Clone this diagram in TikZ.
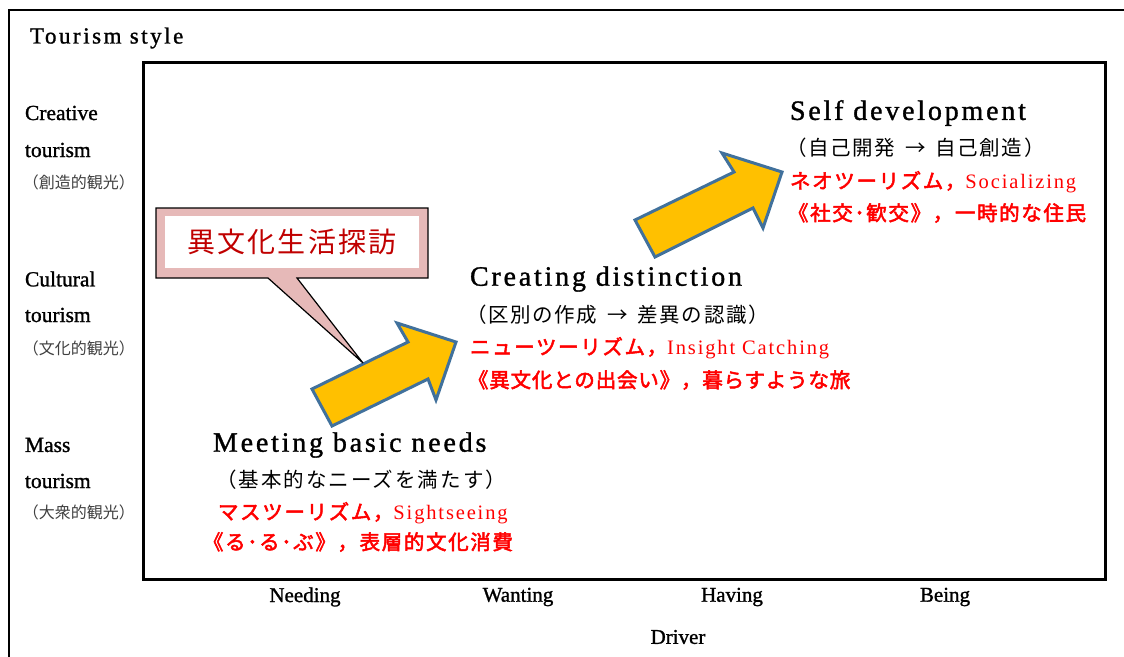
\documentclass[tikz,border=0pt]{standalone}
\usepackage{fontspec}
\setmainfont{Liberation Serif}
\newfontfamily\spcfont[LetterSpace=10,FakeBold=1.2]{Liberation Serif}
\newfontfamily\titlefont[LetterSpace=11,FakeBold=1.2]{Liberation Serif}
\newfontfamily\medserif[FakeBold=1.2]{Liberation Serif}
\newfontfamily\spcsmall[LetterSpace=9]{Liberation Serif}
\newfontfamily\cjkfont[AutoFakeBold=2.5]{Noto Sans CJK JP}
\newfontfamily\cjksp[AutoFakeBold=2.5,LetterSpace=8]{Noto Sans CJK JP}
\newfontfamily\cjknarrow[AutoFakeBold=2.5,LetterSpace=4]{Noto Sans CJK JP}
\newfontfamily\cjkwide[LetterSpace=10]{Noto Sans CJK JP}
\definecolor{arrowfill}{HTML}{FFC000}
\definecolor{arrowline}{HTML}{41719C}
\definecolor{calloutfill}{HTML}{E6B9B8}
\definecolor{callouttext}{HTML}{C00000}
\begin{document}
\begin{tikzpicture}[x=1pt,y=-1pt,
  every node/.style={inner sep=0pt, outer sep=0pt},
  heading/.style={anchor=west, font=\spcfont\fontsize{28}{32}\selectfont},
  jpline/.style={anchor=west, font=\cjksp\fontsize{20.5}{24}\selectfont},
  redline/.style={anchor=west, text=red, font=\fontsize{20.5}{24}\selectfont},
  axislabel/.style={font=\medserif\fontsize{21}{24}\selectfont},
  sidelabel/.style={anchor=west, font=\medserif\fontsize{21.5}{24}\selectfont},
  sidejp/.style={anchor=west, text=black!75, font=\cjkfont\fontsize{16}{18}\selectfont},
  bigarrow/.style={fill=arrowfill, draw=arrowline, line width=3pt, line join=miter}]
\useasboundingbox (0,0) rectangle (1124,656);
% frames
\draw[line width=2pt] (9,660) -- (9,10) -- (1130,10);
\draw[line width=3pt] (143,62) rectangle (1105,579);
% title
\node[anchor=west, font=\titlefont\fontsize{23}{26}\selectfont] (title) at (30,38) {Tourism style};
% side labels
\node[sidelabel] (c1) at (25,113) {Creative};
\node[sidelabel] (c2) at (25,150) {tourism};
\node[sidejp] (c3) at (23,182) {（創造的観光）};
\node[sidelabel] (u1) at (25,279) {Cultural};
\node[sidelabel] (u2) at (25,315) {tourism};
\node[sidejp] (u3) at (23,348) {（文化的観光）};
\node[sidelabel] (m1) at (25,445) {Mass};
\node[sidelabel] (m2) at (25,481) {tourism};
\node[sidejp] (m3) at (23,512) {（大衆的観光）};
% axis labels
\node[axislabel] (needing) at (305,597) {Needing};
\node[axislabel] (wanting) at (518,597) {Wanting};
\node[axislabel] (having) at (732,597) {Having};
\node[axislabel] (being) at (945,597) {Being};
\node[axislabel] (driver) at (678,637) {Driver};
% arrows
\draw[bigarrow] (312,389) -- (408,342) -- (397,323) -- (456,342) -- (436,400) -- (428,379) -- (332,426) -- cycle;
\draw[bigarrow] (635,220) -- (734,172) -- (722,153) -- (782,172) -- (763,228) -- (753,208) -- (655,257) -- cycle;
% callout
\draw[fill=calloutfill, line width=1.2pt, line join=miter] (156,208) -- (428,208) -- (428,278) -- (297,278) -- (363,363) -- (268,278) -- (156,278) -- cycle;
\fill[white] (165,216) rectangle (419,268);
\node[text=callouttext, font=\cjksp\fontsize{28}{32}\selectfont] (callout) at (292,242) {異文化生活探訪};
% Self development block
\node[heading] (s0) at (790,113) {Self development};
\node[jpline] (s1) at (786,148) {（自己開発\hspace{10pt}→\hspace{10pt}自己創造）};
\node[redline] (s2) at (790,182) {{\cjksp\bfseries ネオツーリズム，}{\spcsmall Socializing}};
\node[redline] (s3) at (788,213) {{\cjksp\bfseries 《社交･歓交》，一時的な住民}};
% Creating distinction block
\node[heading] (d0) at (470,279) {Creating distinction};
\node[jpline] (d1) at (466,315) {（区別の作成\hspace{10pt}→\hspace{10pt}差異の認識）};
\node[redline] (d2) at (470,348) {{\cjksp\bfseries ニューツーリズム，}{\spcsmall Insight Catching}};
\node[redline] (d3) at (468,380) {{\cjknarrow\bfseries 《異文化との出会い》，暮らすような旅}};
% Meeting basic needs block
\node[heading] (b0) at (213,445) {Meeting basic needs};
\node[anchor=west, font=\cjkwide\fontsize{20.5}{24}\selectfont] (b1) at (216,480) {（基本的なニーズを満たす）};
\node[redline] (b2) at (218,513) {{\cjksp\bfseries マスツーリズム，}{\spcsmall Sightseeing}};
\node[redline] (b3) at (203,542) {{\cjksp\bfseries 《る･る･ぶ》，表層的文化消費}};
\end{tikzpicture}
\end{document}
